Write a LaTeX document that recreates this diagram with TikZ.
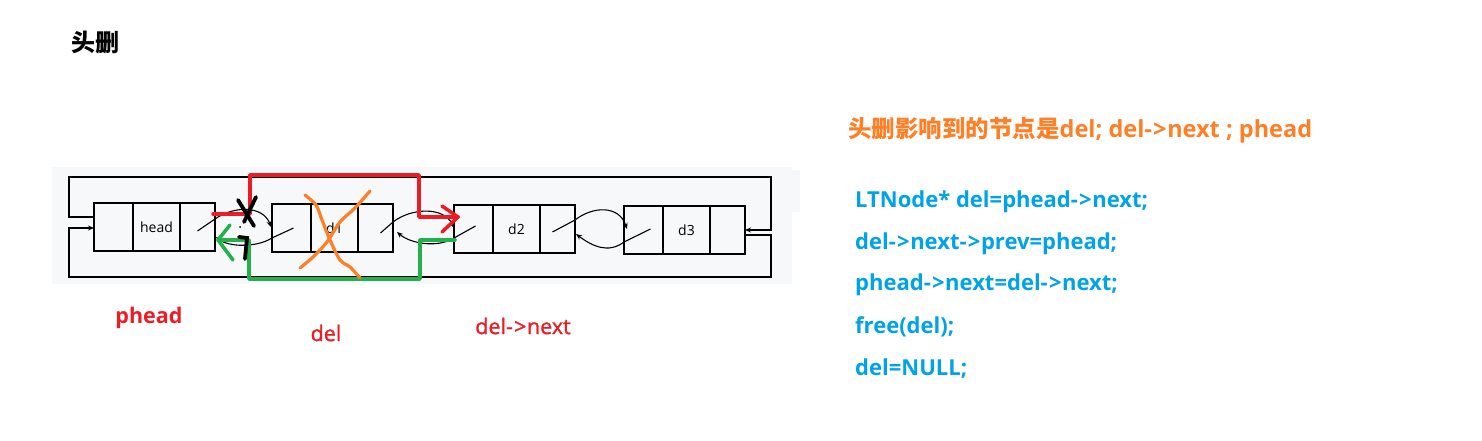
\documentclass[tikz,border=0pt]{standalone}
\usepackage{fontspec}
\setmainfont{Open Sans}
\newfontfamily\semib{Open Sans}[FakeBold=1.2]
\newfontfamily\cjk{Noto Sans CJK SC}
\usetikzlibrary{calc,arrows.meta}
\definecolor{bgray}{HTML}{F7F8FA}
\definecolor{pred}{HTML}{ED1C24}
\definecolor{pgreen}{HTML}{22B14C}
\definecolor{porange}{HTML}{FF7F27}
\definecolor{pblue}{HTML}{00A2E8}
\newcommand\pto{-\kern1.2pt>\kern0.6pt}
\tikzset{
  cell/.style={draw, line width=1.5pt, minimum height=48pt, inner sep=0pt, outer sep=0pt,
    font=\fontsize{14}{16}\selectfont},
  conn/.style={line width=1.1pt, -{Stealth[length=6pt,width=5pt]}},
  loopline/.style={line width=1.5pt},
  redpen/.style={draw=pred, line width=3.5pt, line cap=round, line join=round},
  greenpen/.style={draw=pgreen, line width=3.5pt, line cap=round, line join=round},
  orangepen/.style={draw=porange, line width=3.2pt, line cap=round, line join=round},
  blackpen/.style={draw=black, line width=3.8pt, line cap=round},
  redlabel/.style={text=pred, inner sep=0pt},
  codeline/.style={anchor=west, text=pblue, inner sep=0pt, font=\fontsize{22}{25}\selectfont\bfseries},
}
\newcommand\llnode[4]{%
  \node[cell, minimum width=39pt, anchor=north west] (#1P) at (#2,#3) {};
  \node[cell, minimum width=47pt, anchor=west] (#1D) at (#1P.east) {#4};
  \node[cell, minimum width=35pt, anchor=west] (#1N) at (#1D.east) {};
}
\begin{document}
\begin{tikzpicture}[x=1pt, y=-1pt]
\useasboundingbox[fill=white] (0,0) rectangle (1482,441);
% background panel
\fill[bgray] (52,167) rectangle (792,284);
\fill[bgray] (792,170) rectangle (800,212);
% title
\node[anchor=west, inner sep=0pt, font=\fontsize{24}{27}\selectfont] (title) at (71,43) {\cjk\bfseries 头删};
% nodes
\llnode{h}{94}{203}{head}
\llnode{da}{272}{204}{d1}
\llnode{db}{454}{205}{d2}
\llnode{dc}{624}{206}{d3}
% links
\draw[conn] ($(hN.center)+(0,4)$) -- ($(hN.east)+(0,-8)$) .. controls +(18,-13) and +(-8,-22) .. ($(daP.west)+(-1,-1)$);
\draw[conn] ($(daP.center)+(2,0)$) -- ($(daP.west)+(0,10)$) .. controls +(-16,10) and +(12,10) .. ($(hN.east)+(1,10)$);
\draw[conn] ($(daN.center)+(5,5)$) -- ($(daN.east)+(0,-6)$) .. controls +(18,-14) and +(-10,-22) .. ($(dbP.west)+(0,-1)$);
\draw[conn] ($(dbP.center)+(2,-3)$) -- ($(dbP.west)+(0,9)$) .. controls +(-16,10) and +(14,12) .. ($(daN.east)+(4,4)$);
\draw[conn] ($(dbN.center)+(-5,3)$) -- ($(dbN.east)+(0,-9)$) .. controls +(18,-14) and +(-8,-24) .. ($(dcP.west)+(3,-1)$);
\draw[conn] ($(dcP.center)+(7,-1)$) -- ($(dcP.west)+(0,12)$) .. controls +(-16,12) and +(16,12) .. ($(dbN.east)+(1,5)$);
% circular links
\draw[loopline, -{Stealth[length=6pt,width=5pt]}] ($(hP.west)+(0,-10)$) -| (69,177) -| ($(dcN.east)+(26,0)$) -- (dcN.east);
\draw[loopline, -{Stealth[length=6pt,width=5pt]}] ($(dcN.east)+(0,5)$) -- ($(dcN.east)+(26,5)$) |- (69,277) |- ($(hP.west)+(0,1)$);
% red overlay
\draw[redpen] ($(hN.east)+(-2,-13)$) -- (250,214) -- (250,175) -- (419,175) -- (419,217) -- ($(dbP.west)+(4,-12)$) coordinate (rtip);
\draw[redpen] (442,206) -- (rtip) -- (442,232);
% green overlay
\draw[greenpen] ($(dbP.west)+(1,11)$) -- (420,240) -- (420,279) -- (249,279) -- (249,240) -- (218,240) coordinate (gtip);
\draw[greenpen] (230,225) -- (gtip) -- (233,260);
% black crosses
\draw[blackpen] (238,200) -- (254,226);
\draw[blackpen] (256,197) -- (244,222);
\draw[blackpen] (239,237) -- (247,238) -- (245,259);
\fill (240,227) circle (1pt);
% orange cross over d1
\draw[orangepen] plot[smooth] coordinates {(305,195) (316,205) (322,220) (330,240) (340,260) (350,267) (360,278)};
\draw[orangepen] plot[smooth] coordinates {(370,191) (355,208) (340,222) (327,242) (313,257) (300,268)};
% labels
\node[redlabel, font=\fontsize{21.5}{24}\selectfont\bfseries] (lphead) at (149,318) {phead};
\node[redlabel, font=\fontsize{21.5}{24}\selectfont\semib] (ldel) at (326,333) {del};
\node[redlabel, font=\fontsize{21.5}{24}\selectfont\semib] (lnext) at (523,326) {del\pto next};
% heading
\node[anchor=west, inner sep=0pt, text=porange, font=\fontsize{23.5}{26}\selectfont] (head) at (848,130)
  {{\cjk\bfseries 头删影响到的节点是}{\bfseries del; del\pto next ; phead}};
% code
\node[codeline] (c1) at (855,201.7) {LTNode* del=phead\pto next;};
\node[codeline] (c2) at (855,243.3) {del\pto next\pto prev=phead;};
\node[codeline] (c3) at (855,285) {phead\pto next=del\pto next;};
\node[codeline] (c4) at (855,326.7) {free(del);};
\node[codeline] (c5) at (855,368.3) {del=NULL;};
\end{tikzpicture}
\end{document}
